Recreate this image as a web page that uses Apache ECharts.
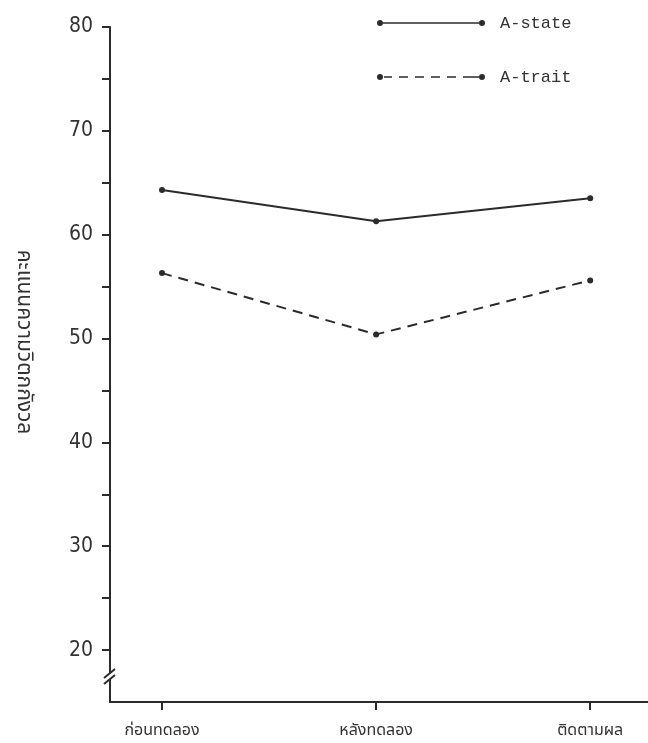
<!DOCTYPE html>
<html>
<head>
<meta charset="utf-8">
<script src="https://cdn.jsdelivr.net/npm/echarts@6/dist/echarts.min.js"></script>
<style>
html,body{margin:0;padding:0;background:#fff;}
#chart{width:648px;height:743px;}
</style>
</head>
<body>
<div id="chart"></div>
<script>
// ---- data ----
var categories = ['ก่อนทดลอง', 'หลังทดลอง', 'ติดตามผล'];
var seriesNames = ['A-state', 'A-trait'];
var aState = [64.3, 61.3, 63.5];
var aTrait = [56.3, 50.4, 55.6];
var yTickLabels = [20, 30, 40, 50, 60, 70, 80];
var yTickMarks = [20, 25, 30, 35, 40, 45, 50, 55, 60, 65, 70, 75, 80];
var yAxisTitle = 'คะแนนความวิตกกังวล';

var ink = '#2b2b2b';
var thaiFont = '"Noto Sans Thai","Noto Sans","DejaVu Sans",sans-serif';
var numFont = '"Liberation Sans Narrow","DejaVu Sans Condensed","Liberation Sans",sans-serif';
var monoFont = '"Liberation Mono","DejaVu Sans Mono",monospace';

var catIdx = categories.map(function (c, i) { return i; });
function toPoints(arr) { return arr.map(function (v, i) { return [i, v]; }); }

var solidIcon = 'path://M0,3 a3,3 0 1,0 6,0 a3,3 0 1,0 -6,0 Z M102,3 a3,3 0 1,0 6,0 a3,3 0 1,0 -6,0 Z M6,2.2 L102,2.2 L102,3.8 L6,3.8 Z';
var dashIcon = 'path://M0,3 a3,3 0 1,0 6,0 a3,3 0 1,0 -6,0 Z M102,3 a3,3 0 1,0 6,0 a3,3 0 1,0 -6,0 Z ' +
  'M7,2.2 L15,2.2 L15,3.8 L7,3.8 Z M22,2.2 L31,2.2 L31,3.8 L22,3.8 Z M38,2.2 L47,2.2 L47,3.8 L38,3.8 Z ' +
  'M54,2.2 L63,2.2 L63,3.8 L54,3.8 Z M70,2.2 L79,2.2 L79,3.8 L70,3.8 Z M86,2.2 L102,2.2 L102,3.8 L86,3.8 Z';

var chart = echarts.init(document.getElementById('chart'), null, {renderer: 'canvas'});
var option = {
  backgroundColor: '#ffffff',
  animation: false,
  grid: {left: 110, right: 0, top: 27, bottom: 41, containLabel: false},
  legend: {
    left: 372, top: 8, orient: 'vertical',
    itemWidth: 108, itemHeight: 6, itemGap: 34,
    data: [
      {name: seriesNames[0], icon: solidIcon},
      {name: seriesNames[1], icon: dashIcon}
    ],
    itemStyle: {color: ink},
    textStyle: {fontFamily: monoFont, fontSize: 17, color: '#333', lineHeight: 20, padding: [0, 0, 0, 10]}
  },
  xAxis: {
    type: 'value', min: -0.243, max: 2.27,
    splitLine: {show: false},
    axisLine: {show: true, onZero: false, lineStyle: {color: ink, width: 2}},
    axisTick: {show: true, customValues: catIdx, length: 8, lineStyle: {color: ink, width: 2}},
    axisLabel: {
      customValues: catIdx, margin: 22,
      formatter: function (v) { return categories[Math.round(v)]; },
      fontFamily: thaiFont, fontSize: 16, color: '#333'
    }
  },
  yAxis: {
    type: 'value', min: 15, max: 80,
    splitLine: {show: false},
    axisLine: {show: true, onZero: false, lineStyle: {color: ink, width: 2}},
    axisTick: {show: true, customValues: yTickMarks, length: 8, lineStyle: {color: ink, width: 2}},
    axisLabel: {
      customValues: yTickLabels, margin: 17,
      fontFamily: numFont, fontSize: 21, color: '#333'
    }
  },
  series: [
    {
      name: seriesNames[0], type: 'line', data: toPoints(aState),
      symbol: 'circle', symbolSize: 6,
      itemStyle: {color: ink},
      lineStyle: {color: ink, width: 2, type: 'solid'}
    },
    {
      name: seriesNames[1], type: 'line', data: toPoints(aTrait),
      symbol: 'circle', symbolSize: 6,
      itemStyle: {color: ink},
      lineStyle: {color: ink, width: 2, type: [10, 7]}
    }
  ]
};
chart.setOption(option);

// axis-break marker and rotated y-axis title
var breakY = chart.convertToPixel({yAxisIndex: 0}, 17.5);
var axisX = chart.convertToPixel({xAxisIndex: 0}, -0.243);
chart.setOption({
  graphic: [
    {type: 'rect', shape: {x: axisX - 4, y: breakY - 3, width: 8, height: 6}, style: {fill: '#fff'}, z: 100},
    {type: 'line', shape: {x1: axisX - 6, y1: breakY + 2, x2: axisX + 5, y2: breakY - 7}, style: {stroke: ink, lineWidth: 2}, z: 101},
    {type: 'line', shape: {x1: axisX - 6, y1: breakY + 8, x2: axisX + 5, y2: breakY - 1}, style: {stroke: ink, lineWidth: 2}, z: 101},
    {type: 'text', x: 22, y: 342, rotation: -Math.PI / 2,
     style: {text: yAxisTitle, fontFamily: thaiFont, fontSize: 21, fill: '#333', align: 'center', verticalAlign: 'middle'}, z: 50}
  ]
});
</script>
</body>
</html>
